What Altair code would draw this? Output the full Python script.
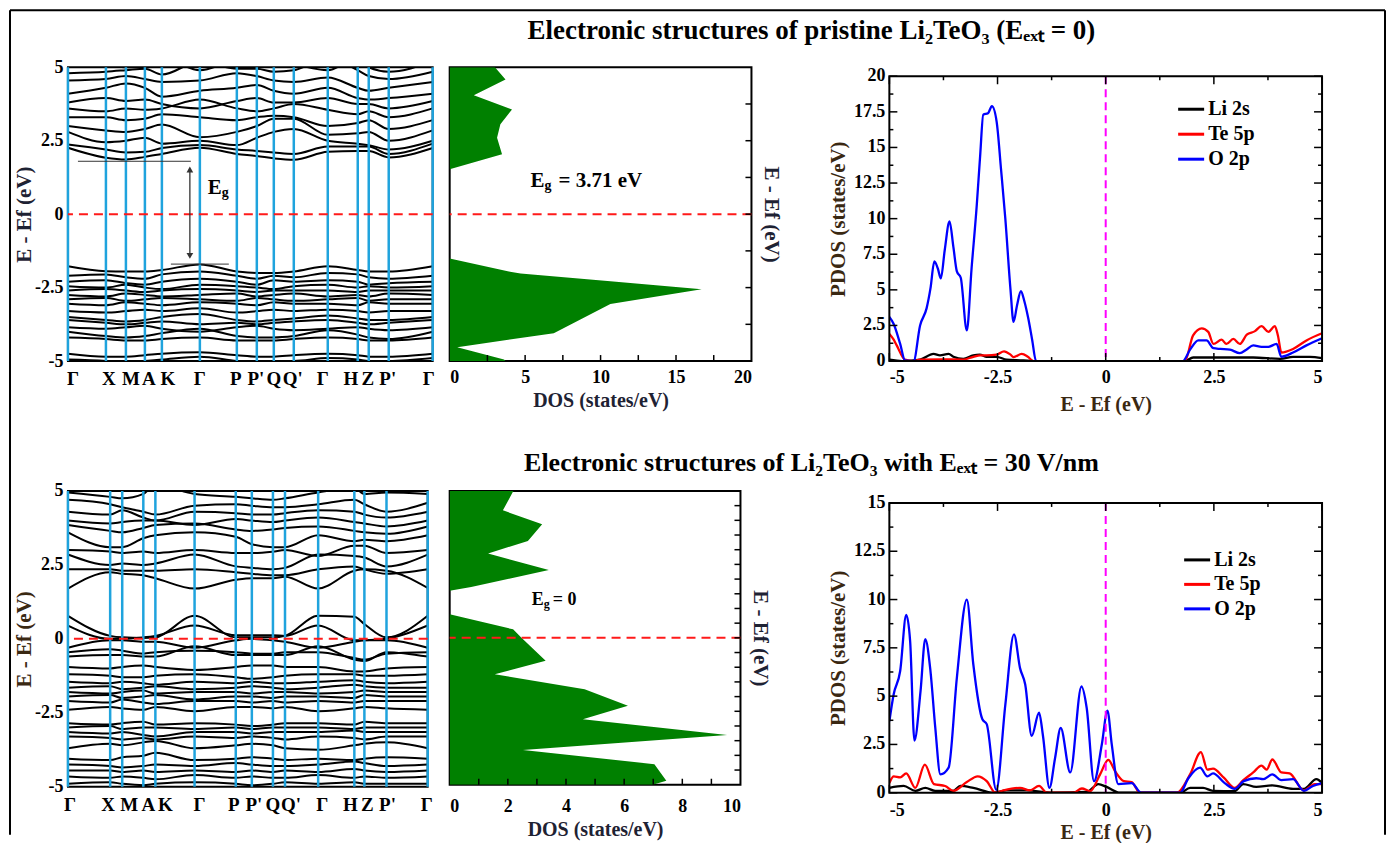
import altair as alt
import pandas as pd

FONT = "Liberation Serif"
BLUE_LINE = "#1fa3dd"
RED = "#ff1a1a"
GREEN = "#008000"
TTL_A = "#1e2233"
TTL_B = "#3a2812"

TITLE_TOP = "Electronic structures of pristine Li₂TeO₃ (Eₑₓₜ = 0)"
TITLE_BOT = "Electronic structures of Li₂TeO₃ with Eₑₓₜ = 30 V/nm"

# ---------------- k-path ----------------
K_LABELS = ["Γ", "X", "M", "A", "K", "Γ", "P", "P'", "Q", "Q'", "Γ", "H", "Z", "P'", "Γ"]
K1_POS = [0, 38, 58, 77, 94, 132, 169, 189, 206, 226, 260, 290, 301, 321, 365]
K2_POS = [0, 42, 54, 75, 87, 126, 167, 183, 204, 216, 249, 285, 295, 317, 358]
# where the tick labels sit along the path (they are spread out a little in the figure)
K1_LABEL_POS = [5, 41, 63, 81, 100, 132, 168, 188, 206, 225, 255, 283, 300, 320, 361]
K2_LABEL_POS = [2, 40, 61, 80, 97, 131, 165, 185, 204, 222, 253, 281, 298, 318, 357]

# ---------------- bands, pristine (E at each k-point) ----------------
BANDS1 = [
    [2.26, 1.92, 1.86, 1.95, 2.05, 2.26, 2.05, 1.98, 1.90, 1.85, 2.12, 2.15, 2.15, 1.93, 2.25],
    [2.37, 2.20, 2.10, 2.12, 2.25, 2.35, 2.20, 2.15, 2.10, 2.05, 2.30, 2.30, 2.30, 2.05, 2.40],
    [2.80, 2.45, 2.50, 2.60, 2.40, 2.50, 2.35, 2.60, 2.80, 2.90, 2.50, 2.40, 2.35, 2.20, 2.50],
    [3.00, 2.85, 2.80, 2.90, 3.05, 2.62, 2.80, 3.00, 3.25, 3.25, 2.70, 2.75, 2.80, 2.50, 2.85],
    [3.30, 3.30, 3.20, 3.25, 3.40, 3.30, 3.20, 3.30, 3.35, 3.30, 3.00, 3.10, 3.20, 2.90, 3.20],
    [3.60, 3.50, 3.60, 3.55, 3.60, 3.90, 3.60, 3.50, 3.60, 3.75, 3.55, 3.40, 3.50, 3.30, 3.60],
    [3.80, 3.95, 3.85, 3.90, 3.75, 3.60, 3.85, 3.95, 3.80, 3.80, 3.95, 3.75, 3.75, 3.60, 3.85],
    [4.10, 4.30, 4.45, 4.30, 4.00, 4.20, 4.30, 4.40, 4.20, 4.10, 4.30, 3.95, 3.90, 3.95, 4.10],
    [4.55, 4.60, 4.70, 4.60, 4.50, 4.55, 4.80, 4.70, 4.55, 4.50, 4.65, 4.30, 4.20, 4.30, 4.50],
    [4.80, 4.85, 4.90, 4.95, 4.75, 5.20, 4.95, 4.95, 4.85, 4.90, 5.30, 4.90, 4.70, 4.60, 4.85],
    [5.30, 5.10, 5.00, 5.10, 5.30, 4.90, 5.20, 5.20, 5.20, 5.10, 4.90, 5.30, 5.00, 4.85, 5.20],
    [-1.77, -1.94, -1.95, -1.95, -1.90, -1.71, -1.95, -2.00, -2.00, -1.95, -1.77, -1.90, -1.95, -1.95, -1.77],
    [-2.10, -2.05, -2.15, -2.20, -2.05, -1.95, -2.10, -2.20, -2.10, -2.15, -2.00, -2.05, -2.15, -2.20, -2.10],
    [-2.30, -2.25, -2.35, -2.40, -2.30, -2.20, -2.30, -2.40, -2.25, -2.30, -2.25, -2.30, -2.40, -2.35, -2.30],
    [-2.45, -2.50, -2.40, -2.50, -2.55, -2.40, -2.45, -2.50, -2.55, -2.45, -2.40, -2.50, -2.45, -2.50, -2.45],
    [-2.60, -2.55, -2.60, -2.65, -2.60, -2.55, -2.60, -2.65, -2.60, -2.60, -2.60, -2.65, -2.60, -2.60, -2.60],
    [-2.75, -2.80, -2.70, -2.75, -2.80, -2.75, -2.70, -2.80, -2.75, -2.70, -2.80, -2.75, -2.80, -2.70, -2.75],
    [-2.90, -2.85, -2.95, -2.90, -2.85, -2.90, -2.95, -2.85, -2.90, -2.95, -2.90, -2.85, -2.95, -2.90, -2.90],
    [-3.05, -3.10, -3.00, -3.05, -3.10, -3.00, -3.05, -3.10, -3.00, -3.05, -3.05, -3.10, -3.00, -3.05, -3.05],
    [-3.30, -3.35, -3.30, -3.25, -3.30, -3.20, -3.35, -3.30, -3.25, -3.30, -3.25, -3.30, -3.35, -3.30, -3.30],
    [-3.50, -3.60, -3.65, -3.60, -3.50, -3.40, -3.60, -3.65, -3.60, -3.55, -3.45, -3.55, -3.60, -3.60, -3.50],
    [-3.60, -3.70, -3.75, -3.70, -3.65, -3.75, -3.70, -3.75, -3.70, -3.65, -3.60, -3.70, -3.75, -3.70, -3.60],
    [-3.85, -3.90, -3.85, -3.80, -3.90, -4.00, -3.85, -3.80, -3.90, -3.95, -3.90, -3.85, -3.90, -3.95, -3.85],
    [-4.00, -4.15, -4.20, -4.15, -4.05, -3.90, -4.15, -4.20, -4.20, -4.15, -3.95, -4.10, -4.20, -4.25, -4.00],
    [-4.20, -4.25, -4.30, -4.30, -4.25, -4.20, -4.30, -4.30, -4.30, -4.25, -4.20, -4.25, -4.30, -4.30, -4.20],
    [-4.75, -4.85, -4.85, -4.80, -4.75, -4.70, -4.80, -4.85, -4.85, -4.80, -4.75, -4.80, -4.85, -4.85, -4.75],
    [-4.95, -5.00, -5.05, -5.00, -4.95, -4.85, -5.00, -5.05, -5.00, -5.00, -4.90, -4.95, -5.00, -5.00, -4.90],
]

# ---------------- bands, E_ext = 30 V/nm ----------------
BANDS2 = [
    [1.70, 2.25, 2.20, 2.15, 2.05, 1.70, 2.00, 2.05, 2.05, 2.10, 1.70, 2.30, 2.35, 2.30, 1.72],
    [2.35, 2.35, 2.30, 2.30, 2.30, 2.35, 2.25, 2.20, 2.15, 2.15, 2.35, 2.45, 2.35, 2.20, 2.35],
    [2.85, 2.50, 2.55, 2.50, 2.55, 2.85, 2.45, 2.40, 2.35, 2.40, 2.85, 2.80, 2.75, 2.45, 2.85],
    [3.00, 2.95, 2.90, 2.95, 2.90, 3.00, 2.90, 2.90, 2.95, 3.00, 2.80, 3.15, 3.15, 2.90, 3.00],
    [3.60, 3.10, 3.10, 3.40, 3.50, 3.60, 3.45, 3.20, 3.10, 3.10, 3.50, 3.30, 3.35, 3.30, 3.50],
    [3.85, 3.65, 3.60, 3.75, 3.85, 3.90, 3.70, 3.65, 3.70, 3.75, 3.80, 3.65, 3.60, 3.55, 3.80],
    [4.00, 3.90, 3.95, 4.00, 4.00, 3.85, 4.05, 4.00, 3.95, 4.00, 4.10, 3.95, 3.90, 3.80, 4.00],
    [4.30, 4.20, 4.35, 4.10, 4.00, 4.30, 4.25, 4.20, 4.20, 4.25, 4.35, 4.30, 4.20, 4.10, 4.30],
    [4.70, 4.55, 4.45, 4.30, 4.20, 4.50, 4.55, 4.50, 4.45, 4.45, 4.55, 4.70, 4.55, 4.30, 4.60],
    [4.95, 4.80, 4.75, 4.90, 5.20, 4.90, 4.80, 4.75, 4.70, 4.75, 4.95, 5.10, 4.90, 4.95, 4.90],
    [0.78, 0.10, 0.05, 0.03, 0.05, 0.78, 0.05, 0.05, 0.05, 0.10, 0.78, 0.75, 0.50, 0.05, 0.78],
    [0.45, 0.00, 0.00, 0.05, 0.10, 0.45, 0.12, 0.12, 0.12, 0.10, 0.45, -0.05, -0.05, 0.00, 0.45],
    [-0.30, -0.05, -0.05, -0.10, -0.10, -0.30, -0.05, 0.00, -0.05, -0.10, -0.30, -0.10, -0.05, -0.05, -0.30],
    [-0.45, -0.35, -0.40, -0.50, -0.45, -0.40, -0.45, -0.50, -0.50, -0.45, -0.45, -0.65, -0.70, -0.50, -0.45],
    [-0.60, -0.55, -0.55, -0.60, -0.60, -0.25, -0.55, -0.55, -0.55, -0.55, -0.25, -0.70, -0.75, -0.45, -0.60],
    [-0.95, -1.00, -0.95, -0.90, -0.95, -1.05, -0.95, -0.90, -0.90, -0.95, -0.95, -1.10, -1.10, -1.00, -0.95],
    [-1.20, -1.25, -1.30, -1.30, -1.25, -1.20, -1.30, -1.35, -1.30, -1.25, -1.20, -1.20, -1.25, -1.25, -1.20],
    [-1.45, -1.50, -1.45, -1.50, -1.55, -1.45, -1.50, -1.45, -1.50, -1.50, -1.45, -1.40, -1.45, -1.50, -1.45],
    [-1.65, -1.60, -1.70, -1.65, -1.60, -1.70, -1.65, -1.60, -1.65, -1.70, -1.65, -1.55, -1.60, -1.65, -1.65],
    [-1.80, -1.85, -1.80, -1.75, -1.85, -1.80, -1.80, -1.85, -1.80, -1.80, -1.85, -1.80, -1.75, -1.80, -1.80],
    [-1.95, -1.90, -2.00, -1.95, -1.90, -2.05, -1.95, -1.95, -2.00, -1.95, -1.95, -2.00, -1.90, -1.95, -1.95],
    [-2.10, -2.15, -2.05, -2.15, -2.20, -2.10, -2.10, -2.15, -2.10, -2.15, -2.10, -2.15, -2.10, -2.10, -2.10],
    [-2.40, -2.30, -2.35, -2.40, -2.30, -2.45, -2.30, -2.30, -2.35, -2.30, -2.45, -2.35, -2.30, -2.35, -2.40],
    [-2.85, -2.90, -2.85, -2.80, -2.90, -2.85, -2.90, -2.95, -2.90, -2.85, -2.85, -2.90, -2.80, -2.85, -2.85],
    [-3.00, -2.95, -3.05, -3.00, -3.00, -3.05, -3.00, -3.05, -3.00, -3.00, -3.00, -3.05, -3.00, -3.00, -3.00],
    [-3.15, -3.20, -3.15, -3.25, -3.30, -3.15, -3.15, -3.20, -3.15, -3.15, -3.15, -3.10, -3.15, -3.15, -3.15],
    [-3.30, -3.35, -3.40, -3.35, -3.40, -3.30, -3.35, -3.30, -3.35, -3.40, -3.30, -3.35, -3.40, -3.30, -3.30],
    [-3.70, -3.55, -3.60, -3.50, -3.45, -3.70, -3.60, -3.55, -3.60, -3.70, -3.75, -3.60, -3.55, -3.50, -3.70],
    [-4.05, -4.10, -4.00, -3.95, -3.85, -4.10, -4.05, -4.00, -4.05, -4.10, -4.05, -4.10, -4.05, -4.00, -4.05],
    [-4.25, -4.30, -4.35, -4.30, -4.25, -4.30, -4.20, -4.25, -4.30, -4.30, -4.25, -4.15, -4.20, -4.30, -4.25],
    [-4.45, -4.45, -4.50, -4.45, -4.50, -4.45, -4.50, -4.45, -4.50, -4.45, -4.50, -4.40, -4.45, -4.50, -4.45],
    [-4.65, -4.70, -4.65, -4.70, -4.75, -4.60, -4.70, -4.65, -4.70, -4.70, -4.60, -4.70, -4.65, -4.70, -4.65],
    [-4.90, -4.85, -4.90, -4.95, -4.90, -4.85, -4.90, -4.95, -4.90, -4.85, -4.90, -4.85, -4.90, -4.90, -4.90],
]

# ---------------- total DOS (energy, states/eV) ----------------
DOS1_E = [-5.0, -4.95, -4.53, -4.05, -3.06, -2.56, -2.28, -2.02, -1.96, -1.51, 1.53, 2.04, 2.60, 3.06, 3.56, 4.05, 4.58, 5.0]
DOS1_V = [3.7, 3.6, 0.5, 6.9, 10.65, 16.7, 10.65, 4.7, 4.0, 0.0, 0.0, 3.47, 3.14, 3.36, 4.13, 1.6, 3.7, 3.0]
DOS2_E = [-5.0, -4.98, -4.86, -4.30, -3.82, -3.31, -2.77, -2.31, -1.75, -1.24, -0.78, 0.01, 0.29, 0.80, 1.60, 1.73, 2.31, 2.87, 3.30, 3.87, 4.34, 4.98, 5.0]
DOS2_V = [7.0, 7.04, 7.45, 7.04, 2.52, 9.54, 4.58, 6.13, 4.64, 1.55, 3.30, 2.46, 2.18, 0.0, 0.0, 0.74, 3.41, 1.32, 2.69, 3.18, 1.83, 2.18, 2.2]

# ---------------- PDOS (E, states/eV) ----------------
PDOS_NAMES = ["Li 2s", "Te 5p", "O 2p"]
PDOS_COLORS = ["#000000", "#ff0000", "#0000ff"]

LI_TOP = [(-5.0, 0.1), (-4.7, 0.0), (-4.29, 0.1), (-3.98, 0.5), (-3.83, 0.4), (-3.63, 0.5), (-3.52, 0.3),
          (-3.29, 0.15), (-3.06, 0.4), (-2.91, 0.45), (-2.75, 0.3), (-2.52, 0.3), (-2.29, 0.1), (-1.9, 0.05),
          (-1.67, 0.0), (1.83, 0.0), (2.02, 0.25), (2.64, 0.25), (3.41, 0.25), (4.03, 0.15), (4.33, 0.3),
          (4.72, 0.3), (5.0, 0.2)]
TE_TOP = [(-5.0, 1.9), (-4.9, 1.5), (-4.83, 1.1), (-4.64, 0.1), (-4.44, 0.0), (-4.29, 0.1), (-3.8, 0.12),
          (-3.29, 0.1), (-3.06, 0.3), (-2.9, 0.4), (-2.75, 0.4), (-2.52, 0.45), (-2.35, 0.68), (-2.2, 0.45),
          (-2.13, 0.28), (-1.94, 0.5), (-1.8, 0.3), (-1.67, 0.0), (1.83, 0.0), (2.02, 1.8), (2.22, 2.3),
          (2.37, 2.05), (2.49, 1.2), (2.68, 1.5), (2.79, 1.2), (2.95, 1.55), (3.1, 1.2), (3.26, 1.85),
          (3.45, 2.1), (3.6, 2.45), (3.76, 2.05), (3.91, 2.45), (3.98, 1.8), (4.06, 0.6), (4.33, 0.85),
          (4.64, 1.45), (5.0, 1.95)]
O_TOP = [(-5.0, 3.1), (-4.9, 2.6), (-4.75, 1.2), (-4.64, 0.05), (-4.44, 0.0), (-4.29, 2.5), (-4.14, 3.7),
         (-4.05, 5.1), (-3.96, 7.0), (-3.88, 6.5), (-3.81, 5.8), (-3.72, 7.8), (-3.61, 9.8), (-3.52, 8.0),
         (-3.44, 6.3), (-3.35, 5.85), (-3.21, 2.15), (-3.1, 6.5), (-2.98, 10.95), (-2.9, 14.5), (-2.83, 17.3),
         (-2.72, 17.4), (-2.63, 17.9), (-2.52, 16.8), (-2.42, 13.5), (-2.32, 10.0), (-2.2, 5.0), (-2.13, 2.75),
         (-2.05, 3.9), (-1.96, 4.9), (-1.88, 4.2), (-1.79, 3.0), (-1.7, 1.5), (-1.61, 0.0), (1.78, 0.0),
         (1.95, 0.8), (2.14, 1.45), (2.33, 1.45), (2.49, 0.9), (2.65, 0.85), (2.87, 0.8), (3.1, 0.55),
         (3.25, 0.8), (3.41, 1.1), (3.6, 1.0), (3.76, 1.0), (3.95, 1.2), (4.06, 0.3), (4.33, 0.6),
         (4.64, 1.1), (5.0, 1.6)]

LI_BOT = [(-5.0, 0.25), (-4.67, 0.35), (-4.4, 0.1), (-4.17, 0.25), (-3.94, 0.1), (-3.52, 0.1), (-3.36, 0.35),
          (-3.06, 0.25), (-2.6, 0.0), (-2.29, 0.12), (-1.83, 0.12), (-1.21, 0.0), (-0.44, 0.04), (-0.17, 0.45),
          (0.02, 0.3), (0.33, 0.0), (1.72, 0.0), (1.95, 0.25), (2.25, 0.25), (2.48, 0.1), (2.98, 0.08),
          (3.18, 0.45), (3.48, 0.3), (3.85, 0.38), (4.33, 0.2), (4.58, 0.2), (4.87, 0.7), (5.0, 0.5)]
TE_BOT = [(-5.0, 0.5), (-4.9, 0.85), (-4.75, 0.8), (-4.61, 1.0), (-4.4, 0.25), (-4.18, 1.45), (-3.97, 0.45),
          (-3.71, 0.35), (-3.52, 0.1), (-3.21, 0.55), (-2.96, 0.85), (-2.75, 0.6), (-2.55, 0.0), (-2.36, 0.12),
          (-1.98, 0.25), (-1.75, 0.12), (-1.54, 0.35), (-1.36, 0.0), (-0.75, 0.0), (-0.55, 0.22), (-0.36, 0.08),
          (-0.13, 0.95), (0.06, 1.7), (0.22, 1.1), (0.42, 0.6), (0.6, 0.55), (0.79, 0.0), (1.64, 0.0),
          (1.95, 0.95), (2.2, 2.1), (2.35, 1.2), (2.48, 1.25), (2.73, 0.78), (2.98, 0.25), (3.18, 0.65),
          (3.41, 1.05), (3.6, 1.4), (3.72, 1.2), (3.85, 1.72), (4.06, 1.05), (4.25, 1.0), (4.58, 0.12),
          (4.83, 0.45), (5.0, 0.45)]
O_BOT = [(-5.0, 3.7), (-4.9, 5.1), (-4.75, 6.3), (-4.61, 9.2), (-4.52, 7.85), (-4.42, 2.7), (-4.28, 5.25),
         (-4.17, 7.95), (-4.05, 6.3), (-3.94, 3.4), (-3.82, 0.95), (-3.63, 1.3), (-3.44, 5.95), (-3.21, 10.0),
         (-3.06, 6.65), (-2.85, 3.8), (-2.75, 3.55), (-2.53, 0.15), (-2.32, 4.55), (-2.12, 8.2), (-1.98, 6.45),
         (-1.86, 5.6), (-1.71, 2.95), (-1.54, 4.15), (-1.45, 2.95), (-1.3, 0.25), (-1.17, 1.8), (-1.04, 3.35),
         (-0.82, 1.05), (-0.56, 5.5), (-0.44, 4.4), (-0.27, 0.6), (-0.09, 2.5), (0.04, 4.25), (0.14, 2.5),
         (0.29, 0.45), (0.6, 0.5), (0.82, 0.0), (1.72, 0.0), (1.91, 0.75), (2.18, 1.3), (2.35, 0.85),
         (2.48, 1.0), (2.75, 0.5), (2.98, 0.2), (3.19, 0.6), (3.48, 0.75), (3.64, 0.7), (3.85, 0.95),
         (4.06, 0.65), (4.33, 0.7), (4.58, 0.1), (4.79, 0.35), (5.0, 0.5)]

# ---------------- tick lists ----------------
E_TICKS = [-5, -2.5, 0, 2.5, 5]
PDOS1_Y = [0, 2.5, 5, 7.5, 10, 12.5, 15, 17.5, 20]
PDOS2_Y = [0, 2.5, 5, 7.5, 10, 12.5, 15]
DOS1_X = [0, 5, 10, 15, 20]
DOS2_X = [0, 2, 4, 6, 8, 10]

ONE = pd.DataFrame({"z": [0]})
LABEL_EXPR = "'' + datum.value"


def txt(x, y, text, size, **kw):
    return alt.Chart(ONE).mark_text(text=text, font=FONT, fontWeight="bold", fontSize=size,
                                    color="black", **kw).encode(x=x, y=y)


def band_panel(kpos, klabpos, bands, w, h, title_color, extra=None):
    rows = [{"band": i, "k": k, "E": e} for i, b in enumerate(bands) for k, e in zip(kpos, b)]
    df = pd.DataFrame(rows)
    xs = alt.Scale(domain=[0, kpos[-1]], nice=False, zero=False)
    ys = alt.Scale(domain=[-5, 5], nice=False, zero=False)
    lines = alt.Chart(df).mark_line(color="black", strokeWidth=2, interpolate="monotone", clip=True).encode(
        x=alt.X("k:Q", scale=xs, axis=None),
        y=alt.Y("E:Q", scale=ys, axis=alt.Axis(values=E_TICKS, labelExpr=LABEL_EXPR, title="E - Ef (eV)",
                                                titlePadding=0, labelPadding=5, titleColor=title_color,
                                                titleFontSize=21, labelOverlap=False)),
        detail="band:N")
    kdf = pd.DataFrame({"k": kpos})
    vlines = alt.Chart(kdf).mark_rule(color=BLUE_LINE, strokeWidth=2.5).encode(x=alt.X("k:Q", scale=xs))
    fermi = alt.Chart(pd.DataFrame({"E": [0]})).mark_rule(color=RED, strokeWidth=2, strokeDash=[9, 6]).encode(
        y=alt.Y("E:Q", scale=ys))
    ldf = pd.DataFrame({"k": klabpos, "lab": K_LABELS})
    klab = alt.Chart(ldf).mark_text(font=FONT, fontWeight="bold", fontSize=19, baseline="middle",
                                    color="black").encode(
        x=alt.X("k:Q", scale=xs), y=alt.value(h + 18), text="lab:N")
    layers = [lines, vlines, fermi, klab]
    if extra:
        layers += extra(xs, ys)
    return alt.layer(*layers).properties(width=w, height=h,
                                         view=alt.ViewBackground(stroke="black", strokeWidth=2))


def band1_extra(xs, ys):
    seg = pd.DataFrame({"k": [10, 103], "k2": [123, 161], "E": [1.80, -1.70]})
    segs = alt.Chart(seg).mark_rule(color="#333333", strokeWidth=1).encode(
        x=alt.X("k:Q", scale=xs), x2="k2:Q", y=alt.Y("E:Q", scale=ys))
    arr = pd.DataFrame({"k": [122], "E": [1.52], "E2": [-1.42]})
    shaft = alt.Chart(arr).mark_rule(color="#333333", strokeWidth=1.3).encode(
        x=alt.X("k:Q", scale=xs), y=alt.Y("E:Q", scale=ys), y2="E2:Q")
    heads_df = pd.DataFrame({"k": [122, 122], "E": [1.52, -1.42], "sh": ["triangle-up", "triangle-down"]})
    heads = alt.Chart(heads_df).mark_point(filled=True, size=45, color="#333333", opacity=1).encode(
        x=alt.X("k:Q", scale=xs), y=alt.Y("E:Q", scale=ys),
        shape=alt.Shape("sh:N", scale=None))
    lab_df = pd.DataFrame({"k": [140], "E": [0.88]})
    e_lab = alt.Chart(lab_df).mark_text(text="E", font=FONT, fontWeight="bold", fontSize=21, align="left",
                                        baseline="middle", color="black").encode(
        x=alt.X("k:Q", scale=xs), y=alt.Y("E:Q", scale=ys))
    g_lab = alt.Chart(lab_df).mark_text(text="g", font=FONT, fontWeight="bold", fontSize=14, align="left",
                                        baseline="middle", dx=14, dy=5, color="black").encode(
        x=alt.X("k:Q", scale=xs), y=alt.Y("E:Q", scale=ys))
    # figure frame and row title (decorations)
    frame = [
        alt.Chart(ONE).mark_rule(color="black", strokeWidth=2).encode(
            x=alt.value(-58), y=alt.value(-57), y2=alt.value(768)),
        alt.Chart(ONE).mark_rule(color="black", strokeWidth=2).encode(
            x=alt.value(-58), x2=alt.value(1318), y=alt.value(-57)),
        alt.Chart(ONE).mark_rule(color="black", strokeWidth=2).encode(
            x=alt.value(1318), y=alt.value(-57), y2=alt.value(768)),
    ]
    title = txt(alt.value(744), alt.value(-36), TITLE_TOP, 27, align="center", baseline="middle")
    return [segs, shaft, heads, e_lab, g_lab, title] + frame


def band2_extra(xs, ys):
    return [txt(alt.value(744), alt.value(-28), TITLE_BOT, 26, align="center", baseline="middle")]


def dos_panel(E, V, xmax, xvals, w, h, rtick_step, btick_step, label_pad, eg, title_color):
    df = pd.DataFrame({"E": E, "D": V})
    xs = alt.Scale(domain=[0, xmax], nice=False, zero=True)
    ys = alt.Scale(domain=[-5, 5], nice=False, zero=False)
    area = alt.Chart(df).mark_area(orient="horizontal", color=GREEN, clip=True, interpolate="linear").encode(
        x=alt.X("D:Q", scale=xs, stack=None,
                axis=alt.Axis(values=xvals, labelExpr=LABEL_EXPR, title="DOS (states/eV)",
                              labelPadding=label_pad, titlePadding=4, titleColor=title_color,
                              labelOverlap=False)),
        y=alt.Y("E:Q", scale=ys, sort=None,
                axis=alt.Axis(orient="right", values=E_TICKS, labels=False, title="E - Ef (eV)",
                              titlePadding=9, titleColor=title_color, titleFontSize=21)))
    fermi = alt.Chart(pd.DataFrame({"E": [0]})).mark_rule(color=RED, strokeWidth=2, strokeDash=[9, 6]).encode(
        y=alt.Y("E:Q", scale=ys))
    ny = int(round(10 / rtick_step))
    rt = pd.DataFrame({"E": [-5 + i * rtick_step for i in range(1, ny)]})
    rticks = alt.Chart(rt).mark_rule(color="black", strokeWidth=1.5).encode(
        y=alt.Y("E:Q", scale=ys), x=alt.value(w), x2=alt.value(w - 6))
    nx = int(round(xmax / btick_step))
    bt = pd.DataFrame({"D": [i * btick_step for i in range(1, nx)]})
    bticks = alt.Chart(bt).mark_rule(color="black", strokeWidth=1.5).encode(
        x=alt.X("D:Q", scale=xs), y=alt.value(h), y2=alt.value(h - 6))
    (d0, e0, size, dxg, dyg, gsize, dxr, rest) = eg
    lab_df = pd.DataFrame({"D": [d0], "E": [e0]})
    labs = []
    for t, fs, dx, dy in [("E", size, 0, 0), ("g", gsize, dxg, dyg), (rest, size, dxr, 0)]:
        labs.append(alt.Chart(lab_df).mark_text(text=t, font=FONT, fontWeight="bold", fontSize=fs, align="left",
                                                baseline="middle", dx=dx, dy=dy, color="black").encode(
            x=alt.X("D:Q", scale=xs), y=alt.Y("E:Q", scale=ys)))
    return alt.layer(area, fermi, rticks, bticks, *labs).properties(
        width=w, height=h, view=alt.ViewBackground(stroke="black", strokeWidth=2))


def pdos_panel(series, ymax, yvals, w, h, top, label_pad, title_pad, leg):
    rows = [{"s": name, "E": e, "V": v} for name, pts in series for e, v in pts]
    df = pd.DataFrame(rows)
    xs = alt.Scale(domain=[-5, 5], nice=False, zero=False)
    ys = alt.Scale(domain=[0, ymax], range=[h, top], nice=False, zero=False)
    frame = alt.Chart(ONE).mark_rect(filled=False, stroke="black", strokeWidth=2).encode(
        x=alt.value(0), x2=alt.value(w), y=alt.value(top), y2=alt.value(h))
    lines = alt.Chart(df).mark_line(strokeWidth=2.3, interpolate="monotone", clip=True).encode(
        x=alt.X("E:Q", scale=xs, axis=alt.Axis(values=E_TICKS, labelExpr=LABEL_EXPR, title="E - Ef (eV)",
                                                labelPadding=label_pad, titlePadding=title_pad,
                                                titleColor=TTL_B, labelOverlap=False)),
        y=alt.Y("V:Q", scale=ys, axis=alt.Axis(values=yvals, labels=False, title="PDOS (states/eV)",
                                                titlePadding=41, titleColor=TTL_B, titleFontSize=21)),
        color=alt.Color("s:N", scale=alt.Scale(domain=PDOS_NAMES, range=PDOS_COLORS), legend=None),
        order=alt.Order("E:Q"))
    # y tick labels written out as text marks placed by the y scale
    ylab_df = pd.DataFrame({"V": yvals, "lab": [f"{v:g}" for v in yvals]})
    ylabs = alt.Chart(ylab_df).mark_text(font=FONT, fontWeight="bold", fontSize=18, align="right",
                                         baseline="middle", color="black").encode(
        y=alt.Y("V:Q", scale=ys), x=alt.value(-4), text="lab:N")
    fermi = alt.Chart(pd.DataFrame({"E": [0]})).mark_rule(color="#ff00ff", strokeWidth=2, strokeDash=[8, 5]).encode(
        x=alt.X("E:Q", scale=xs), y=alt.value(top), y2=alt.value(h))
    ticks = []
    xmaj = pd.DataFrame({"E": [-5, -2.5, 0, 2.5, 5]})
    xmin = pd.DataFrame({"E": [-3.75, -1.25, 1.25, 3.75]})
    for d, L in [(xmaj, 8), (xmin, 4)]:
        ticks.append(alt.Chart(d).mark_rule(color="black", strokeWidth=1.5).encode(
            x=alt.X("E:Q", scale=xs), y=alt.value(h), y2=alt.value(h - L)))
        ticks.append(alt.Chart(d).mark_rule(color="black", strokeWidth=1.5).encode(
            x=alt.X("E:Q", scale=xs), y=alt.value(top), y2=alt.value(top + L)))
    ymaj = pd.DataFrame({"V": yvals})
    ymin = pd.DataFrame({"V": [v + 1.25 for v in yvals[:-1]]})
    for d, L in [(ymaj, 8), (ymin, 4)]:
        ticks.append(alt.Chart(d).mark_rule(color="black", strokeWidth=1.5).encode(
            y=alt.Y("V:Q", scale=ys), x=alt.value(0), x2=alt.value(L)))
        ticks.append(alt.Chart(d).mark_rule(color="black", strokeWidth=1.5).encode(
            y=alt.Y("V:Q", scale=ys), x=alt.value(w), x2=alt.value(w - L)))
    # legend (drawn by hand: line sample + label)
    lx, ly0, step = leg
    legend = []
    for i, (name, col) in enumerate(zip(PDOS_NAMES, PDOS_COLORS)):
        yy = ly0 + i * step
        legend.append(alt.Chart(ONE).mark_rule(color=col, strokeWidth=3).encode(
            x=alt.value(lx), x2=alt.value(lx + 26), y=alt.value(yy)))
        legend.append(txt(alt.value(lx + 30), alt.value(yy), name, 20, align="left", baseline="middle"))
    return alt.layer(lines, fermi, frame, ylabs, *ticks, *legend).properties(width=w, height=h)


def spacer(w, h):
    return alt.Chart(ONE).mark_point(opacity=0).encode(
        x=alt.X("z:Q", axis=None), y=alt.Y("z:Q", axis=None)).properties(width=w, height=h)


band1 = band_panel(K1_POS, K1_LABEL_POS, BANDS1, 365, 294, TTL_A, band1_extra)
dos1 = dos_panel(DOS1_E, DOS1_V, 20, DOS1_X, 302, 294, 1.25, 2.5, 7,
                 (5.36, 1.12, 21, 14, 5, 14, 28, "= 3.71 eV"), TTL_A)
pdos1 = pdos_panel([("Li 2s", LI_TOP), ("Te 5p", TE_TOP), ("O 2p", O_TOP)], 20, PDOS1_Y,
                   433, 294, 9, 7, 8, (289, 42, 25))

band2 = band_panel(K2_POS, K2_LABEL_POS, BANDS2, 360, 296, TTL_B, band2_extra)
dos2 = dos_panel(DOS2_E, DOS2_V, 10, DOS2_X, 291, 294, 0.5, 1, 13,
                 (2.82, 1.28, 18, 12, 4, 12, 21, "= 0"), TTL_A)
pdos2 = pdos_panel([("Li 2s", LI_BOT), ("Te 5p", TE_BOT), ("O 2p", O_BOT)], 15, PDOS2_Y,
                   433, 302, 12, 9, 3, (295, 69, 24.5))

# the flow layout adds 4px around each cell, so the gap cells are 8px narrower than the gaps
chart = alt.concat(
    band1, spacer(9, 294), dos1, spacer(130, 294), pdos1,
    band2, spacer(17, 294), dos2, spacer(138, 294), pdos2,
    columns=5, spacing={"row": 130, "column": 0}, align="none", bounds="flush",
).properties(padding=0, background="white").configure_view(strokeWidth=0).configure_axis(
    labelFont=FONT, labelFontWeight="bold", labelFontSize=18, labelColor="black",
    titleFont=FONT, titleFontWeight="bold", titleFontSize=20, labelOverlap=False,
    ticks=False, domain=False, grid=False)

chart.save("out.html", embed_options={"renderer": "svg", "actions": False})
